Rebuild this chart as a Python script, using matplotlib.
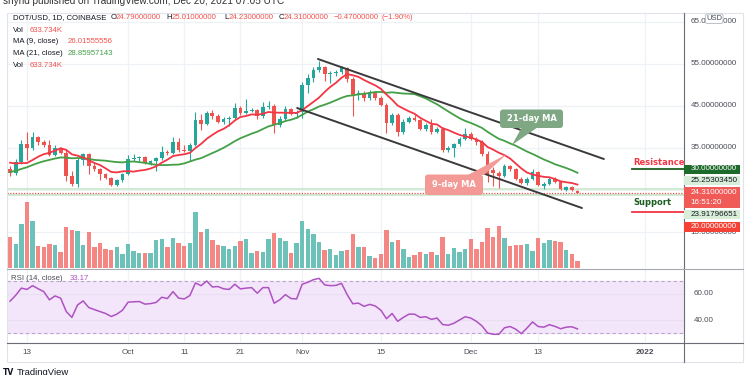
import numpy as np
import pandas as pd
import matplotlib
matplotlib.use("Agg")
import matplotlib.pyplot as plt
import matplotlib.transforms as mtransforms
from matplotlib.patches import Rectangle, FancyBboxPatch, Polygon
from matplotlib.lines import Line2D

plt.rcParams['font.family'] = ['Liberation Sans', 'DejaVu Sans']

# ---------------- data ----------------
prior_closes = [26.5, 26.0, 26.8, 25.9, 26.4, 27.1, 26.7, 28.0, 28.5, 29.4,
                29.5, 31.0, 33.5, 35.0, 34.8, 31.0, 29.5, 30.2, 30.5, 30.0]

opens = [29.9, 29.0, 31.7, 36.0, 34.9, 37.5, 36.5, 35.7, 33.3, 34.9,
         33.9, 28.3, 26.4, 32.1, 33.5, 30.7, 29.9, 28.8, 27.8, 26.2,
         27.3, 28.7, 32.4, 32.6, 32.8, 31.4, 31.8, 32.5, 34.1, 33.7,
         36.5, 34.5, 34.3, 35.8, 41.7, 40.7, 43.4, 42.5, 41.3, 41.8,
         42.2, 44.5, 43.3, 43.9, 44.1, 42.5, 44.8, 45.1, 40.5, 42.0,
         44.3, 43.2, 43.6, 50.0, 51.6, 53.6, 54.2, 52.6, 52.8, 53.1,
         54.0, 51.5, 47.5, 48.2, 46.8, 48.3, 47.0, 45.3, 41.0, 42.8,
         38.9, 41.3, 42.1, 41.7, 39.6, 40.5, 38.9, 39.6, 34.6, 35.1,
         35.9, 37.2, 38.3, 37.2, 36.4, 33.6, 29.8, 29.0, 28.4, 30.8,
         30.0, 27.6, 26.7, 27.6, 29.3, 26.0, 26.5, 27.6, 26.9, 25.1,
         25.7, 24.79]
highs = [30.6, 32.3, 36.8, 38.9, 38.9, 37.9, 36.9, 36.8, 35.8, 35.3,
         34.6, 29.5, 32.7, 33.9, 33.8, 31.5, 30.3, 29.1, 28.2, 27.6,
         29.0, 33.3, 33.6, 33.1, 33.0, 32.1, 32.8, 35.5, 34.5, 37.5,
         37.4, 35.8, 36.1, 43.5, 43.2, 43.9, 44.0, 43.1, 42.3, 42.6,
         45.8, 45.1, 46.6, 44.6, 44.4, 46.0, 46.1, 45.5, 42.6, 45.0,
         44.6, 44.0, 50.6, 52.5, 54.2, 55.6, 54.6, 53.4, 53.6, 54.6,
         54.4, 52.0, 48.9, 48.6, 48.8, 48.6, 47.4, 45.8, 43.3, 43.4,
         41.8, 42.6, 42.9, 42.0, 40.9, 41.9, 40.0, 40.0, 35.4, 36.3,
         37.5, 39.8, 38.7, 37.6, 36.8, 34.2, 30.5, 29.6, 31.3, 31.0,
         30.3, 28.0, 28.1, 30.0, 29.6, 26.9, 28.0, 28.0, 27.2, 25.9,
         26.0, 25.01]
lows = [28.3, 28.6, 31.2, 32.1, 34.6, 35.8, 35.2, 33.0, 33.0, 33.5,
        27.2, 25.9, 25.8, 31.0, 28.7, 29.6, 27.3, 27.5, 25.9, 25.9,
        27.0, 28.5, 32.0, 31.9, 31.1, 31.0, 29.6, 32.2, 33.3, 33.5,
        34.1, 34.0, 32.0, 35.4, 39.3, 40.4, 42.0, 40.9, 40.6, 40.2,
        41.9, 42.8, 43.0, 43.5, 42.0, 42.2, 44.3, 38.6, 40.0, 41.6,
        42.8, 42.2, 42.2, 48.0, 50.7, 53.0, 51.0, 50.5, 52.2, 52.6,
        50.8, 42.5, 46.5, 46.3, 46.4, 46.5, 44.9, 38.6, 40.4, 37.9,
        38.4, 40.9, 41.4, 39.2, 39.0, 38.4, 38.5, 34.0, 34.1, 32.9,
        35.5, 36.9, 36.8, 35.8, 33.2, 27.0, 26.0, 25.5, 28.0, 29.5,
        27.3, 26.4, 26.3, 27.3, 25.9, 25.2, 26.2, 26.6, 24.9, 24.8,
        24.8, 24.23]
closes = [29.0, 31.7, 36.0, 34.9, 37.5, 36.5, 35.7, 33.3, 34.9, 33.9,
          28.3, 26.4, 32.1, 33.5, 30.7, 29.9, 28.8, 27.8, 26.2, 27.3,
          28.7, 32.4, 32.6, 32.8, 31.4, 31.8, 32.5, 34.1, 33.7, 36.5,
          34.5, 34.3, 35.8, 41.7, 40.7, 43.4, 42.5, 41.3, 41.8, 42.2,
          44.5, 43.3, 43.9, 44.1, 42.5, 44.8, 45.1, 40.5, 42.0, 44.3,
          43.2, 43.6, 50.0, 51.6, 53.6, 54.2, 52.6, 52.8, 53.1, 54.0,
          51.5, 47.5, 48.2, 46.8, 48.3, 47.0, 45.3, 41.0, 42.8, 38.9,
          41.3, 42.1, 41.7, 39.6, 40.5, 38.9, 39.6, 34.6, 35.1, 35.9,
          37.2, 38.3, 37.2, 36.4, 33.6, 28.8, 29.0, 28.4, 30.8, 30.0,
          27.6, 26.7, 27.6, 29.3, 26.2, 26.5, 27.6, 26.9, 25.2, 25.6,
          25.0, 24.31]
volumes_m = [2.92, 2.31, 4.18, 6.24, 4.50, 2.12, 1.97, 2.31, 2.19, 1.55,
             3.90, 3.58, 3.52, 2.22, 3.46, 1.97, 2.41, 1.84, 1.68, 2.00,
             1.36, 2.31, 1.59, 1.46, 1.46, 1.46, 2.63, 2.79, 1.97, 2.85,
             2.38, 2.12, 2.38, 5.33, 3.46, 3.71, 2.66, 2.19, 2.09, 1.84,
             2.12, 2.60, 2.79, 1.46, 1.65, 1.52, 2.79, 3.36, 2.88, 2.57,
             1.46, 2.38, 4.50, 3.71, 3.20, 2.44, 1.71, 1.78, 1.24, 1.59,
             1.71, 3.27, 1.97, 2.03, 1.11, 0.92, 1.30, 3.65, 2.44, 2.63,
             1.81, 1.01, 1.24, 1.52, 1.30, 1.55, 1.24, 2.92, 1.30, 1.90,
             1.55, 1.81, 2.79, 1.81, 2.44, 3.80, 2.92, 4.03, 2.85, 2.12,
             2.19, 2.19, 2.31, 1.65, 2.85, 2.38, 2.66, 2.57, 2.50, 1.71,
             1.36, 0.634]
rsi_vals = [54.5, 59.0, 64.5, 63.5, 66.4, 64.0, 61.8, 55.5, 58.5, 56.8,
            46.5, 42.0, 51.5, 54.7, 49.6, 48.0, 46.5, 45.0, 42.7, 44.5,
            47.5, 53.7, 54.0, 54.2, 52.2, 52.6, 53.5, 57.5, 56.5, 61.8,
            56.8, 56.2, 58.8, 68.5, 66.4, 70.0, 65.4, 65.7, 64.0, 63.5,
            67.5, 63.9, 64.5, 64.9, 60.6, 64.9, 64.9, 52.9, 55.5, 59.5,
            56.5, 56.2, 67.5, 69.0, 71.0, 72.0, 67.0, 66.4, 66.6, 68.2,
            59.5, 52.5, 53.0, 50.5, 52.0, 50.8, 47.5, 41.0, 45.0, 39.0,
            42.0, 44.5, 44.5, 42.0, 42.5, 40.5, 41.5, 36.5, 36.0, 37.5,
            40.0, 42.5, 41.5, 39.0, 35.5, 30.0, 29.0, 29.0, 34.0, 35.0,
            33.0, 29.5, 33.8, 38.5, 35.0, 34.5, 36.4, 35.1, 33.3, 34.5,
            34.8, 33.17]

tick_idx = [3, 21, 31, 41, 52, 66, 82, 94, 113]
tick_labels = ['13', 'Oct', '11', '21', 'Nov', '15', 'Dec', '13', '2022']
price_ticks = [65, 55, 45, 35, 15]
price_grid = [65, 55, 45, 35, 25, 15]
rsi_ticks = [60, 40]
upper_channel = ([54.8, 105.7], [56.19, 32.38])
lower_channel = ([51.1, 101.8], [44.52, 20.71])
resistance_level = 30.0
support_level = 20.0
level_light = [25.25303450, 23.91796651]
last_price = 24.31

# ---------------- layout ----------------
W, H = 750, 375
fig = plt.figure(figsize=(W / 100, H / 100), dpi=100)
fig.patch.set_facecolor('white')
PXT = mtransforms.Affine2D().scale(1 / W, -1 / H).translate(0, 1) + fig.transFigure


def axes_px(l, t, r, b):
    return fig.add_axes([l / W, 1 - b / H, (r - l) / W, (b - t) / H])


PL, PR = 7, 684
P_TOP, P_BOT = 13, 268
R_TOP, R_BOT = 269, 342
XMIN, XMAX = -0.55, 119.96
PMIN, PMAX = 6.43, 67.14
VMAX = 24.25
RMIN, RMAX = 23.1, 79.2

UP, DN = '#26a69a', '#ef5350'
VUP, VDN = '#6cc1b8', '#f48784'
GRID = '#eef1f6'

ax_v = axes_px(PL, P_TOP, PR, P_BOT)
ax_p = axes_px(PL, P_TOP, PR, P_BOT)
ax_r = axes_px(PL, R_TOP, PR, R_BOT)
ax_v.set_zorder(0)
ax_p.set_zorder(1)
ax_r.set_zorder(1)
for a in (ax_v, ax_p, ax_r):
    a.set_xlim(XMIN, XMAX)
    a.patch.set_alpha(0)
    a.set_axis_off()
ax_v.set_ylim(0, VMAX)
ax_p.set_ylim(PMIN, PMAX)
ax_r.set_ylim(RMIN, RMAX)

o = np.array(opens); h = np.array(highs); l = np.array(lows); c = np.array(closes)
n = len(c)
idx = np.arange(n)
up = c >= o

# grid
for t in tick_idx:
    ax_v.axvline(t, color=GRID, lw=0.9, zorder=0)
    ax_r.axvline(t, color=GRID, lw=0.9, zorder=0)
tp = mtransforms.blended_transform_factory(ax_v.transAxes, ax_p.transData)
for p in price_grid:
    ax_v.add_line(Line2D([0, 1], [p, p], transform=tp, color=GRID, lw=0.9, zorder=0))

# volume
ax_v.bar(idx, volumes_m, width=0.78, color=np.where(up, VUP, VDN), zorder=2)

# horizontal levels
for lv in level_light:
    ax_p.axhline(lv, color='#cde8cf', lw=1.3, zorder=1)
ax_p.axhline(last_price, color=DN, lw=0.9, ls=(0, (1, 1.2)), zorder=1)

# candles
cols = np.where(up, UP, DN)
ax_p.vlines(idx, l, h, colors=cols, lw=0.8, zorder=3)
body = np.maximum(np.abs(c - o), 0.12)
ax_p.bar(idx, body, bottom=np.minimum(o, c), width=0.66, color=cols, zorder=4)

# moving averages
allc = pd.Series(list(prior_closes) + list(closes))
ma9 = allc.rolling(9).mean().values[len(prior_closes):]
ma21 = allc.rolling(21).mean().values[len(prior_closes):]
ax_p.plot(idx, ma21, color='#43a047', lw=1.3, zorder=5)
ax_p.plot(idx, ma9, color='#f23645', lw=1.3, zorder=5)

# channel
ax_p.plot(*upper_channel, color='#3a3a3a', lw=1.4, zorder=6, solid_capstyle='round')
ax_p.plot(*lower_channel, color='#3a3a3a', lw=1.4, zorder=6, solid_capstyle='round')

# RSI
ax_r.axhspan(30, 70, color='#f3e6fa', zorder=0)
for t in rsi_ticks:
    ax_r.axhline(t, color='#e8e0f0', lw=0.8, zorder=1)
ax_r.axhline(70, color='#b9a6c9', lw=0.8, ls=(0, (3, 2.5)), zorder=1)
ax_r.axhline(30, color='#b9a6c9', lw=0.8, ls=(0, (3, 2.5)), zorder=1)
ax_r.plot(idx, rsi_vals, color='#ae52c2', lw=1.1, zorder=3)

# ---------------- frame ----------------
def pxline(x0, y0, x1, y1, color, lw=0.8, z=8):
    fig.add_artist(Line2D([x0, x1], [y0, y1], transform=PXT, color=color, lw=lw, zorder=z))

fig.add_artist(Rectangle((PL, P_TOP), 743 - PL, 362 - P_TOP, transform=PXT, fill=False,
                         ec='#e0e3eb', lw=0.8, zorder=8))
pxline(PR, P_TOP, PR, 362, '#6a6d78')
pxline(PL, 342.5, 743, 342.5, '#6a6d78')
pxline(PL, 268.5, 743, 268.5, '#a5a8b1')

# ---------------- texts ----------------
TXT = '#131722'
GR = '#4a4d57'
RED = '#f05350'
fs = 5.6

fig.text(3, 1.5, 'shyhd published on TradingView.com, Dec 20, 2021 07:05 UTC', transform=PXT,
         fontsize=7.2, color='#333333', va='center', ha='left', zorder=10)

y1 = 17.5
fig.text(12.7, y1, 'DOT/USD, 1D, COINBASE', transform=PXT, fontsize=fs, color=TXT, va='center', zorder=10)
for xl, letter, xn, val in [(110.7, 'O', 115.8, '24.79000000'), (166.7, 'H', 171.5, '25.01000000'),
                            (224.0, 'L', 228.3, '24.23000000'), (278.3, 'C', 283.3, '24.31000000')]:
    fig.text(xl, y1, letter, transform=PXT, fontsize=fs, color=TXT, va='center', zorder=10)
    fig.text(xn, y1, val, transform=PXT, fontsize=fs, color=RED, va='center', zorder=10)
fig.text(333.3, y1, '\u22120.47000000', transform=PXT, fontsize=fs, color=RED, va='center', zorder=10)
fig.text(381.7, y1, '(\u22121.90%)', transform=PXT, fontsize=fs, color=RED, va='center', zorder=10)

for yy, lab, xv, val, vc in [(30.0, 'Vol', 29.3, '633.734K', RED),
                             (41.7, 'MA (9, close)', 68.0, '26.01555556', RED),
                             (53.3, 'MA (21, close)', 68.0, '28.85957143', '#43a047'),
                             (65.7, 'Vol', 29.3, '633.734K', RED)]:
    fig.text(12.7, yy, lab, transform=PXT, fontsize=fs, color=TXT, va='center', zorder=10)
    fig.text(xv, yy, val, transform=PXT, fontsize=fs, color=vc, va='center', zorder=10)

fig.text(11, 279, 'RSI (14, close)', transform=PXT, fontsize=fs, color=GR, va='center', zorder=10)
fig.text(70, 279, '33.17', transform=PXT, fontsize=fs, color='#ae52c2', va='center', zorder=10)

# price axis labels
tpa = mtransforms.blended_transform_factory(PXT, ax_p.transData)
for p in price_ticks:
    fig.text(690.5, p, f'{p:.8f}', transform=tpa, fontsize=5.8, color=GR, va='center', zorder=9)
fig.add_artist(FancyBboxPatch((705.5, 14), 17.5, 9.5, boxstyle='round,pad=0,rounding_size=2',
                              transform=PXT, fc='white', ec='#b2b5be', lw=0.6, zorder=11))
fig.text(714.2, 18.8, 'USD', transform=PXT, fontsize=5.5, color=GR, ha='center', va='center', zorder=12)

boxes = [(164.5, 173.5, '#1d6b2a', 'white', [f'{resistance_level:.8f}']),
         (176.0, 185.0, '#d8eed9', TXT, [f'{level_light[0]:.8f}']),
         (186.5, 208.0, '#f05a57', 'white', [f'{last_price:.8f}', '16:51:20']),
         (209.5, 219.0, '#d8eed9', TXT, [f'{level_light[1]:.8f}']),
         (222.0, 231.5, '#f44336', 'white', [f'{support_level:.8f}'])]
for t0, t1, fc, tc, lines in boxes:
    fig.add_artist(Rectangle((PR, t0), 740 - PR, t1 - t0, transform=PXT, fc=fc, ec='none', zorder=11))
    if len(lines) == 1:
        fig.text(690.5, (t0 + t1) / 2, lines[0], transform=PXT, fontsize=5.8, color=tc, va='center', zorder=12)
    else:
        fig.text(690.5, t0 + 5.5, lines[0], transform=PXT, fontsize=5.8, color=tc, va='center', zorder=12)
        fig.text(690.5, t0 + 15.5, lines[1], transform=PXT, fontsize=5.8, color=tc, va='center', zorder=12)

# RSI axis labels
tra = mtransforms.blended_transform_factory(PXT, ax_r.transData)
for t in rsi_ticks:
    fig.text(694, t, f'{t:.2f}', transform=tra, fontsize=5.8, color=GR, va='center', zorder=9)

# time axis labels
tta = mtransforms.blended_transform_factory(ax_r.transData, PXT)
for t, lab in zip(tick_idx, tick_labels):
    fig.text(t, 352, lab, transform=tta, fontsize=5.9, color=GR, ha='center', va='center',
             fontweight='bold' if lab == '2022' else 'normal', zorder=9)

# resistance / support
fig.text(633, 162.5, 'Resistance', transform=PXT, fontsize=6.0, color='#f23645', fontweight='bold',
         family='DejaVu Sans', va='center', zorder=10)
fig.add_artist(Line2D([632, PR], [resistance_level, resistance_level], transform=tpa,
                      color='#1b5e20', lw=1.3, zorder=10))
fig.text(633, 202.5, 'Support', transform=PXT, fontsize=6.0, color='#1b5e20', fontweight='bold',
         family='DejaVu Sans', va='center', zorder=10)
fig.add_artist(Line2D([632, PR], [support_level - 0.35, support_level - 0.35], transform=tpa,
                      color='#f23645', lw=1.3, zorder=10))

# callouts
g_col = '#7fa784'
fig.add_artist(Polygon([(522, 127), (538, 127), (512, 145)], closed=True, transform=PXT,
                       fc=g_col, ec='none', zorder=12))
fig.add_artist(FancyBboxPatch((500, 109.5), 63, 18.5, boxstyle='round,pad=0,rounding_size=3',
                              transform=PXT, fc=g_col, ec='none', zorder=12))
fig.text(531.5, 118.8, '21-day MA', transform=PXT, fontsize=6.0, color='white', fontweight='bold',
         family='DejaVu Sans', ha='center', va='center', zorder=13)

r_col = '#f39a96'
fig.add_artist(Polygon([(468, 175), (484, 175), (507, 154)], closed=True, transform=PXT,
                       fc=r_col, ec='none', zorder=12))
fig.add_artist(FancyBboxPatch((425, 174.5), 58, 20.5, boxstyle='round,pad=0,rounding_size=3',
                              transform=PXT, fc=r_col, ec='none', zorder=12))
fig.text(454, 184.8, '9-day MA', transform=PXT, fontsize=6.0, color='white', fontweight='bold',
         family='DejaVu Sans', ha='center', va='center', zorder=13)

# TradingView logo
fig.text(3, 372.5, 'TV', transform=PXT, fontsize=5.5, color='#131722', fontweight='bold',
         family='DejaVu Sans', va='center', zorder=10)
fig.text(17, 372.5, 'TradingView', transform=PXT, fontsize=6.8, color='#131722', va='center', zorder=10)

fig.savefig('out.png', dpi=100, facecolor='white')
